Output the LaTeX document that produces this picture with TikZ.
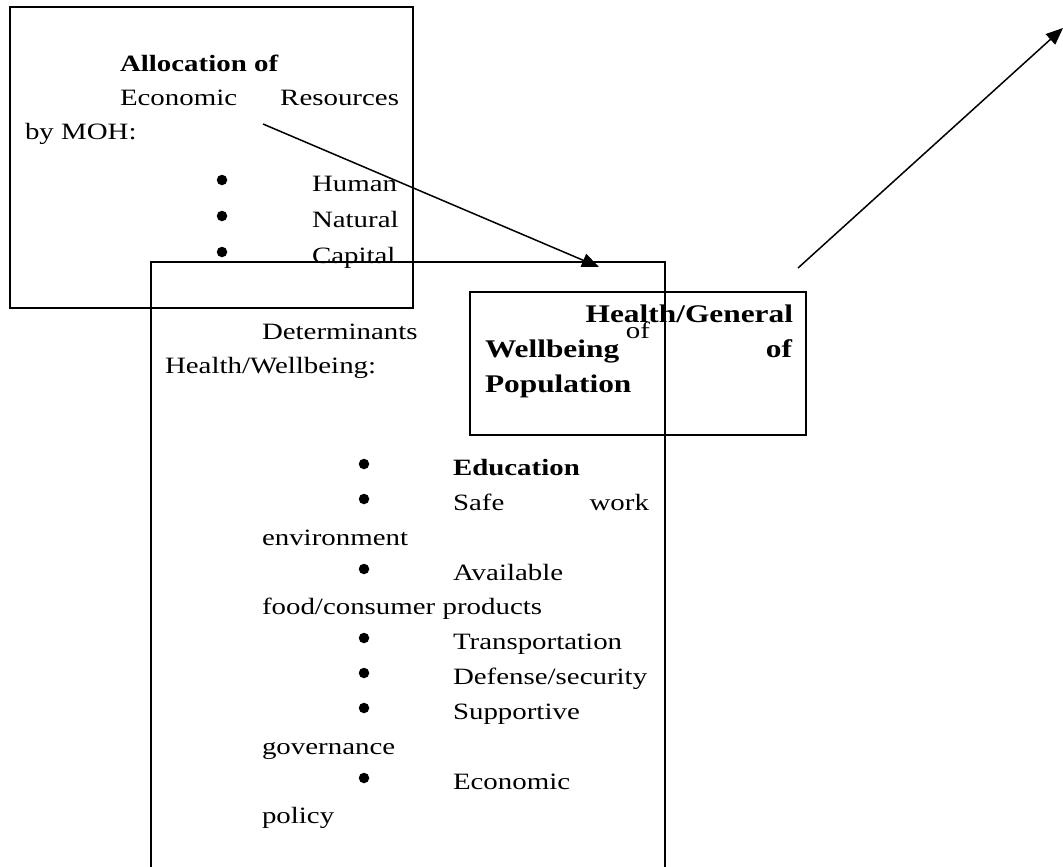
\documentclass[tikz,border=0pt]{standalone}
\usepackage{fontspec}
\setmainfont{Liberation Serif}[FakeStretch=1.235]
\usetikzlibrary{arrows.meta}
\begin{document}
\begin{tikzpicture}[x=1pt,y=-1pt,
  frame/.style={draw, line width=2.3pt, inner sep=0pt, outer sep=0pt, anchor=north west},
  txt/.style={inner sep=0pt, outer sep=0pt, anchor=base west, font=\fontsize{23.4}{35}\selectfont},
  txtr/.style={txt, anchor=base east},
  btxt/.style={txt, font=\fontsize{23.4}{35}\selectfont\bfseries},
  bul/.style={circle, fill=black, inner sep=0pt, outer sep=0pt, minimum size=10.5pt},
  head/.style={txt, font=\fontsize{25.4}{35}\selectfont\bfseries},
  headr/.style={head, anchor=base east},
  link/.style={line width=1.5pt, -{Triangle[length=17pt,width=14pt]}}]
\clip (0,0) rectangle (1063,867);

% frames
\node[frame, minimum width=403pt, minimum height=301pt] (alloc) at (10,7) {};
\node[frame, minimum width=514pt, minimum height=640pt] (determ) at (151,262) {};
\node[frame, minimum width=336pt, minimum height=143pt] (health) at (470,292) {};

% allocation of resources
\node[btxt] (allocT1) at (120,72) {Allocation of};
\node[txt]  (allocT2a) at (120,105) {Economic};
\node[txtr] (allocT2b) at (399,105) {Resources};
\node[txt]  (allocT3) at (25,139) {by MOH:};
\node[bul] (allocB1) at (222,180) {};
\node[txt] (allocI1) at (312,191) {Human};
\node[bul] (allocB2) at (222,216) {};
\node[txt] (allocI2) at (312,227) {Natural};
\node[bul] (allocB3) at (222,252) {};
\node[txt] (allocI3) at (312,263) {Capital};

% determinants of health
\node[txt]  (detT1a) at (262,339) {Determinants};
\node[txtr] (detT1b) at (650,338) {of};
\node[txt]  (detT2) at (165,373) {Health/Wellbeing:};
\node[bul]  (detB1) at (364,464) {};
\node[btxt] (detI1) at (453,475) {Education};
\node[bul]  (detB2) at (364,499) {};
\node[txt]  (detI2a) at (453,510) {Safe};
\node[txtr] (detI2b) at (649,510) {work};
\node[txt]  (detI2c) at (262,545) {environment};
\node[bul]  (detB3) at (364,569) {};
\node[txt]  (detI3a) at (453,580) {Available};
\node[txt]  (detI3b) at (262,614) {food/consumer products};
\node[bul]  (detB4) at (364,638) {};
\node[txt]  (detI4) at (453,649) {Transportation};
\node[bul]  (detB5) at (364,673) {};
\node[txt]  (detI5) at (453,684) {Defense/security};
\node[bul]  (detB6) at (364,708) {};
\node[txt]  (detI6a) at (453,719) {Supportive};
\node[txt]  (detI6b) at (262,754) {governance};
\node[bul]  (detB7) at (364,778) {};
\node[txt]  (detI7a) at (453,789) {Economic};
\node[txt]  (detI7b) at (262,823) {policy};

% general wellbeing of population
\node[headr] (hT1) at (793,322) {Health/General};
\node[head]  (hT2a) at (485,357) {Wellbeing};
\node[headr] (hT2b) at (792,357) {of};
\node[head]  (hT3) at (485,392) {Population};

% connectors
\coordinate (allocOut) at (263,124);
\coordinate (determIn) at (599,267);
\coordinate (healthOut) at (798,268);
\coordinate (beyond) at (1063,28);
\draw[link] (allocOut) -- (determIn);
\draw[link] (healthOut) -- (beyond);
\end{tikzpicture}
\end{document}
